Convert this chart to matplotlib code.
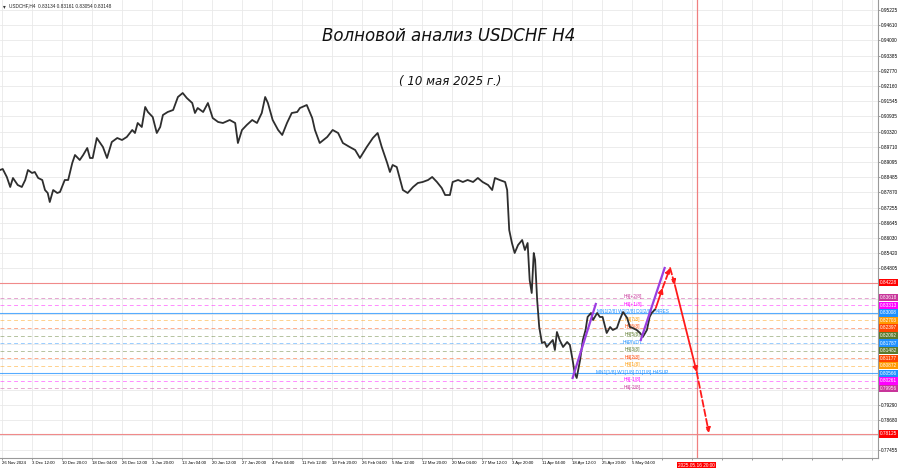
import numpy as np
import matplotlib.pyplot as plt
from matplotlib.transforms import blended_transform_factory

# H4 bar index (0 = 26 Nov 2024) and close price
bars = [0,4,10,15,19,26,32,37,41,47, 51,56,62,66,70,73,78,84,88,95,
        100,106,110,117,122,128,132,136,142,147, 151,157,164,172,179,186,194,198,202,208,
        213,217,224,230,235,239,246,254,261,268, 274,282,286,290,298,305,312,320,327,337,
        345,349,355,362,370,377,384,389,393,400, 408,414,421,428,436,440,450,458,462,469,
        480,488,496,503,513,521,528,538,547,554, 560,568,572,576,582,587,591,598,606,613,
        620,628,634,641,648,653,660,664,672,679, 686,694,701,708,716,722,726,733,741,744,
        747,751,755,760,766,770,774,777,780,783, 785,788,791,795,799,802,807,811,814,817,
        821,826,832,836,840,843,846,851,855,859, 862,867,870,876,880,884,890,895,899,905,
        909,914,920,924,928,934,939,943,949,953, 956,961]
closes = [0.88770,0.88811,0.88488,0.88085,0.88448,0.88165,0.88085,0.88367,0.88770,0.88649,
          0.88690,0.88448,0.88367,0.87963,0.87842,0.87479,0.87963,0.87842,0.87883,0.88367,
          0.88367,0.89053,0.89375,0.89174,0.89375,0.89658,0.89254,0.89254,0.90061,0.89859,
          0.89698,0.89254,0.89900,0.90061,0.89980,0.90102,0.90384,0.90263,0.90666,0.90505,
          0.91312,0.91110,0.90908,0.90263,0.90505,0.90989,0.91110,0.91191,0.91715,0.91876,
          0.91675,0.91473,0.91070,0.91271,0.91110,0.91473,0.90868,0.90707,0.90666,0.90787,
          0.90666,0.89859,0.90384,0.90586,0.90787,0.90666,0.91070,0.91715,0.91473,0.90787,
          0.90384,0.90183,0.90666,0.91070,0.91110,0.91271,0.91392,0.90868,0.90384,0.89859,
          0.90102,0.90384,0.90263,0.89859,0.89698,0.89577,0.89254,0.89698,0.90061,0.90263,
          0.89698,0.89053,0.88690,0.88972,0.88891,0.88367,0.87963,0.87842,0.88085,0.88246,
          0.88286,0.88367,0.88488,0.88286,0.88044,0.87761,0.87761,0.88286,0.88367,0.88286,
          0.88367,0.88286,0.88448,0.88286,0.88165,0.87963,0.88448,0.88367,0.88286,0.87963,
          0.86350,0.85825,0.85422,0.85745,0.85946,0.85543,0.85825,0.84333,0.83808,0.85422,
          0.85140,0.83526,0.82437,0.81792,0.81832,0.81630,0.81792,0.81912,0.81509,0.82235,
          0.81912,0.81630,0.81832,0.81711,0.81106,0.80581,0.80380,0.81106,0.81912,0.82316,
          0.82841,0.83002,0.82720,0.83002,0.82841,0.82841,0.82195,0.82437,0.82316,0.82397,
          0.82720,0.83042,0.82800,0.82437,0.82397,0.82316,0.82195,0.82034,0.82316,0.82841,
          0.83002,0.83148]

# murrey levels
level_prices = [0.83618,0.83313,0.83008,0.82703,0.82397,0.82092,0.81787,
                0.81482,0.81177,0.80872,0.80566,0.80261,0.79956]
level_names = ['H4[+2/8]','H4[+1/8]','MN1[2/8] W1[2/8] D1[2/8] H4RES','H4[7/8]','H4[6/8]',
               'H4[5/8]','H4PIVOT','H4[3/8]','H4[2/8]','H4[1/8]',
               'MN1[1/8] W1[1/8] D1[1/8] H4SUP','H4[-1/8]','H4[-2/8]']
level_colors = ['#c8359a','#ff00ff','#1e90ff','#ff9900','#ff4500','#5b7a2c','#1e90ff',
                '#5b7a2c','#ff4500','#ff9900','#1e90ff','#ff00ff','#c8359a']
level_solid = [False,False,True,False,False,False,False,False,False,False,True,False,False]

red_levels = [0.84228, 0.78125]
last_price = 0.83148

# wave lines and forecast arrows
wave1_bars = [840, 874]
wave1_prices = [0.80380, 0.83365]
wave2_bars = [940, 975]
wave2_prices = [0.81912, 0.84817]
arrow_bars = [962, 972, 983, 990, 1022, 1040]
arrow_prices = [0.83203, 0.84010, 0.84817, 0.84131, 0.80622, 0.78161]
arrow_dashed = [False, True, True, False, True]
vline_bar = 1022

price_ticks = [0.95225,0.94610,0.94000,0.93385,0.92770,0.92160,0.91545,0.90935,0.90320,
               0.89710,0.89095,0.88485,0.87870,0.87255,0.86645,0.86030,0.85420,0.84805,
               0.84195,0.83580,0.82970,0.82355,0.81745,0.81130,0.80520,0.79905,
               0.79290,0.78680,0.78065,0.77455]
hidden_ticks = [0.84195,0.83580,0.82970,0.82355,0.81745,0.81130,0.80520,0.79905,0.78065]
date_labels = ['26 Nov 2024','3 Dec 12:00','10 Dec 20:00','18 Dec 04:00','26 Dec 12:00',
               '3 Jan 20:00','13 Jan 04:00','20 Jan 12:00','27 Jan 20:00','4 Feb 04:00',
               '11 Feb 12:00','18 Feb 20:00','26 Feb 04:00','5 Mar 12:00','12 Mar 20:00',
               '20 Mar 04:00','27 Mar 12:00','3 Apr 20:00','11 Apr 04:00','18 Apr 12:00',
               '25 Apr 20:00','5 May 04:00']

small = ['Liberation Sans', 'DejaVu Sans']

fig = plt.figure(figsize=(9, 4.68), dpi=100)
ax = fig.add_axes([0, 1 - 458/468, 878/900, 458/468])
ax.set_xlim(0, 1288)
ax.set_ylim(0.77152, 0.95628)

# grid
xt = [3 + 44*i for i in range(30)]
ax.set_xticks(xt)
ax.set_xticklabels(date_labels + ['']*(30 - len(date_labels)), fontsize=3.1, family=small)
for t in ax.get_xticklabels():
    t.set_ha('left')
ax.set_yticks(price_ticks)
ax.set_yticklabels(['' if p in hidden_ticks else '%.5f' % p for p in price_ticks],
                   fontsize=3.4, family=small)
ax.yaxis.tick_right()
ax.tick_params(axis='both', length=1.5, width=0.5, color='#777777', pad=0.8)
ax.grid(True, color='#e9e9e9', lw=0.6)
ax.set_axisbelow(True)
for s in ['top', 'left']:
    ax.spines[s].set_visible(False)
for s in ['right', 'bottom']:
    ax.spines[s].set_color('#9a9a9a')
    ax.spines[s].set_linewidth(0.8)

# levels
for p in red_levels:
    ax.axhline(p, color='#f08a8a', lw=0.8, zorder=1)
ax.axvline(vline_bar, color='#f08080', lw=0.9, zorder=1)
for p, name, c, solid in zip(level_prices, level_names, level_colors, level_solid):
    if solid:
        ax.axhline(p, color=c, lw=0.8, alpha=0.75, zorder=1)
    else:
        ax.axhline(p, color=c, lw=0.7, ls=(0, (4, 3)), alpha=0.45, zorder=1)
    ax.text(928, p + 0.0004, name, color=c, fontsize=3.4, family=small,
            ha='center', va='center', zorder=2)

# price
ax.plot(bars, closes, color='#2e2e2e', lw=1.3, zorder=3)

# waves
ax.plot(wave1_bars, wave1_prices, color='#9a3ee0', lw=1.6, zorder=4)
ax.plot(wave2_bars, wave2_prices, color='#9a3ee0', lw=1.6, zorder=4)

# forecast arrows
for i in range(len(arrow_dashed)):
    ax.annotate('', xy=(arrow_bars[i+1], arrow_prices[i+1]),
                xytext=(arrow_bars[i], arrow_prices[i]),
                arrowprops=dict(arrowstyle='-|>', color='#ff1a1a', lw=1.3,
                                ls='--' if arrow_dashed[i] else '-',
                                mutation_scale=7, shrinkA=0, shrinkB=0),
                zorder=5)

# right side price boxes
tr = blended_transform_factory(ax.transAxes, ax.transData)
box_kw = dict(transform=tr, fontsize=3.4, family=small, color='white', va='center',
              ha='left', clip_on=False)
ax.text(1.002, last_price, '%.5f' % last_price, zorder=6,
        bbox=dict(boxstyle='square,pad=0.25', fc='black', ec='none'), **box_kw)
for p in red_levels:
    ax.text(1.002, p, '%.5f' % p, zorder=7,
            bbox=dict(boxstyle='square,pad=0.25', fc='#ff0000', ec='none'), **box_kw)
for p, c in zip(level_prices, level_colors):
    ax.text(1.002, p, '%.5f' % p, zorder=7,
            bbox=dict(boxstyle='square,pad=0.25', fc=c, ec='none'), **box_kw)

# date box for forecast line
ax.text(vline_bar, -0.011, '2025.05.16 20:00',
        transform=blended_transform_factory(ax.transData, ax.transAxes),
        fontsize=3.4, family=small, color='white', ha='center', va='top', clip_on=False,
        zorder=7, bbox=dict(boxstyle='square,pad=0.3', fc='#ff0000', ec='none'))

# header
ax.text(0.003, 0.992, '\u25BE', transform=ax.transAxes, fontsize=4, color='#333333',
        ha='left', va='top', family='DejaVu Sans')
ax.text(0.010, 0.993, 'USDCHF,H4  0.83134 0.83161 0.83054 0.83148', transform=ax.transAxes,
        fontsize=3.4, family=small, color='#222222', ha='left', va='top')

# titles
fig.text(449/900, 1 - 36/468, 'Волновой анализ USDCHF H4', fontsize=12, style='italic',
         family='DejaVu Sans', ha='center', va='center', color='#111111')
fig.text(450/900, 1 - 81/468, '( 10 мая 2025 г.)', fontsize=8.5, style='italic',
         family='DejaVu Sans', ha='center', va='center', color='#111111')

fig.savefig('out.png', dpi=100)
